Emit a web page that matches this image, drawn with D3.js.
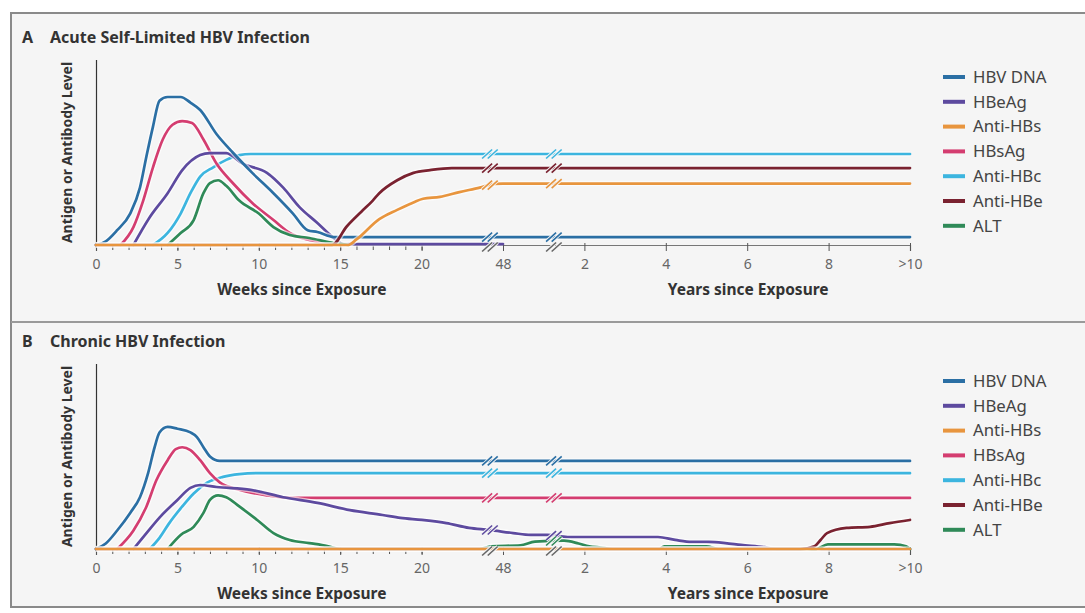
<!DOCTYPE html>
<html>
<head>
<meta charset="utf-8">
<script src="https://cdn.jsdelivr.net/npm/d3@7"></script>
<style>
  body { margin: 0; background: #fff; }
  svg { display: block; font-family: "Noto Sans", "Open Sans", sans-serif; }
  .tick text { fill: #666; font-size: 14px; }
  .ptitle { font-weight: bold; font-size: 16px; fill: #333; }
  .atitle { font-weight: bold; font-size: 15.5px; fill: #333; }
  .ylab { font-weight: bold; font-size: 14px; fill: #333; }
  .leg { font-size: 16.8px; fill: #444; }
</style>
</head>
<body>
<div id="chart"></div>
<script>
// x values are weeks since exposure (years * 52 after the break), y values are relative level 0-100

const seriesNames = ["HBV DNA", "HBeAg", "Anti-HBs", "HBsAg", "Anti-HBc", "Anti-HBe", "ALT"];
const seriesColors = ["#2b6fa4", "#5d4a9f", "#e8953e", "#d43d70", "#3cb5df", "#7a2230", "#2f8a58"];
// draw order (zero segments end up on the baseline)
const drawOrder = ["Anti-HBc", "HBsAg", "HBeAg", "ALT", "HBV DNA", "Anti-HBe", "Anti-HBs"];

const tickWeeks = [0, 5, 10, 15, 20, 48, 104, 208, 312, 416, 520];
const tickLabels = ["0", "5", "10", "15", "20", "48", "2", "4", "6", "8", ">10"];
const minorWeeks = d3.range(0, 21);
const breakWeeks = [43.5, 83];

// ---- Panel A: acute self-limited infection ----
const acuteHbvDna = [[0,0],[0.6,2],[1.3,8],[2.1,17],[2.7,31],[3.1,48],[3.5,64],[3.9,78],[4.4,80],[5.2,80],[5.8,77],[6.4,73],[7.4,60],[8.4,50],[9.6,39],[10.9,28],[12.1,17],[13,8],[13.6,7],[14.6,4.3],[16,4.3],[520,4.3]];
const acuteHbeag = [[2.3,0],[3.3,15],[4.4,28],[5.3,40.5],[6.4,48.6],[7,49.7],[8,49.7],[9,44],[10.5,39],[11.5,31],[12.5,20.5],[13.6,11.9],[14.6,3.8],[15.2,0.5],[48,0.5]];
const acuteAntiHbs = [[0,0],[15.5,0],[16,3],[17.4,14],[18.5,19],[19.5,23],[20.5,25],[26.3,26],[33,28.6],[40,31],[45,33],[48,33.2],[520,33.2]];
const acuteHbsag = [[1.5,0],[2.3,9.7],[2.9,24],[3.5,42],[4.1,57],[4.7,65],[5.3,67],[5.9,66],[6.6,57],[7.4,44],[8.4,33.5],[9.6,22.7],[10.9,13.5],[11.9,6.5],[13.1,2.7],[14.2,1],[15,0]];
const acuteAntiHbc = [[3.5,0],[4.4,6.5],[5.2,17],[5.8,28],[6.4,37],[7.2,42],[8,46],[8.8,48.6],[9.5,49.2],[520,49.2]];
const acuteAntiHbe = [[0,0],[14.5,0],[15.4,10],[16.3,18],[17,24],[17.4,28],[18.5,35],[19.5,39],[22.9,40.5],[30.4,41.6],[520,41.6]];
const acuteAlt = [[4.4,0],[5.2,6.5],[6,13.5],[6.6,28],[7,33.5],[7.5,35],[8,32],[8.8,24],[10,17],[10.9,9.7],[11.9,5.4],[13.1,3.8],[14.6,1],[15.5,0]];

// ---- Panel B: chronic infection ----
const chronicHbvDna = [[0,0],[0.6,3],[1.3,10],[2.1,19.5],[2.7,28],[3.2,41],[3.6,55],[3.9,63],[4.4,66],[5,65],[5.8,63],[6.2,60.5],[6.6,55],[7,50],[7.6,47.6],[8.5,47.6],[520,47.6]];
const chronicHbeag = [[2.3,0],[3.1,8.6],[3.9,17],[5,26.5],[5.8,33],[6.4,34.6],[7.4,33.5],[9.5,32],[11.5,28],[13.6,24.9],[15.6,21],[17.6,18.4],[18.7,16.8],[20.1,15.7],[28.5,14],[36.3,11.4],[43.2,10.3],[55,8.6],[67,7.6],[78.6,7.6],[92.4,6.5],[114,6.5],[156,6.5],[198,6.5],[220,4.9],[241,3.8],[263,3.8],[284,3.2],[304,2.2],[334,1],[350,0],[520,0]];
const chronicAntiHbs = [[0,0],[520,0]];
const chronicHbsag = [[1.3,0],[2.3,10],[3.1,23],[3.7,37],[4.4,48],[4.9,54],[5.3,55],[5.8,53.5],[6.4,48],[7,41],[7.6,36],[8.8,32],[10.5,29],[12.1,27.6],[14,27.6],[520,27.6]];
const chronicAntiHbc = [[3.3,0],[3.9,6],[4.5,14],[5.3,23],[6,30],[6.8,35.7],[7.8,39],[8.8,40.5],[9.9,41],[11,41],[520,41]];
const chronicAntiHbe = [[0,0],[380,0],[398,1.5],[406,5],[414,8.6],[439,11.4],[469,12],[494,14],[520,15.7]];
const chronicAlt = [[4.4,0],[5.2,7.6],[6,12],[6.6,19.5],[7,26.5],[7.5,29],[8,28],[8.8,23],[9.9,15.7],[10.9,8.6],[11.9,4.9],[13.1,3.2],[14.2,1.6],[15,0],[40,0],[44,1.5],[60,2],[70,4],[90,4.5],[100,3],[110,1.5],[125,0.8],[140,0],[200,0],[206,1.5],[260,1.5],[275,0],[400,0],[415,2.5],[500,2.5],[515,1.5],[520,0]];

const panels = [
  { letter: "A", title: "Acute Self-Limited HBV Infection", top: 60, base: 245,
    series: [acuteHbvDna, acuteHbeag, acuteAntiHbs, acuteHbsag, acuteAntiHbc, acuteAntiHbe, acuteAlt] },
  { letter: "B", title: "Chronic HBV Infection", top: 364, base: 549,
    series: [chronicHbvDna, chronicHbeag, chronicAntiHbs, chronicHbsag, chronicAntiHbc, chronicAntiHbe, chronicAlt] }
];

const W = 1085, H = 613;
const slot = 81.4, x0 = 96;
const x = d3.scaleLinear()
  .domain([0, 20, 48, 104, 520])
  .range([x0, x0 + 4 * slot, x0 + 5 * slot, x0 + 6 * slot, x0 + 10 * slot]);

const svg = d3.select("#chart").append("svg")
  .attr("width", W)
  .attr("height", H);

// frame
svg.append("rect").attr("x", 11).attr("y", 13).attr("width", W).attr("height", 594)
  .attr("fill", "#f5f5f5").attr("stroke", "#8a8a8a").attr("stroke-width", 2);
svg.append("line").attr("x1", 11).attr("x2", W).attr("y1", 322).attr("y2", 322)
  .attr("stroke", "#9a9a9a").attr("stroke-width", 2);

const colorOf = d3.scaleOrdinal().domain(seriesNames).range(seriesColors);

// value at a given week by straight interpolation, null when outside the series
function valueAt(pts, w) {
  if (w < pts[0][0] || w > pts[pts.length - 1][0]) return null;
  const i = d3.bisector(d => d[0]).left(pts, w);
  if (i === 0) return pts[0][1];
  const a = pts[i - 1], b = pts[i];
  return a[1] + (b[1] - a[1]) * (w - a[0]) / (b[0] - a[0]);
}

function breakMark(g, cx, cy, color) {
  [-2.8, 2.8].forEach(dx => {
    g.append("line")
      .attr("x1", cx + dx - 5).attr("y1", cy + 4.5)
      .attr("x2", cx + dx + 5).attr("y2", cy - 4.5)
      .attr("stroke", "#f5f5f5").attr("stroke-width", 3.5);
  });
  [-2.8, 2.8].forEach(dx => {
    g.append("line")
      .attr("x1", cx + dx - 5).attr("y1", cy + 4.5)
      .attr("x2", cx + dx + 5).attr("y2", cy - 4.5)
      .attr("stroke", color).attr("stroke-width", 1.6);
  });
}

panels.forEach(p => {
  const g = svg.append("g");
  const y = d3.scaleLinear().domain([0, 100]).range([p.base, p.top]);

  // title
  const t = g.append("text").attr("class", "ptitle").attr("x", 22).attr("y", p.top - 17);
  t.append("tspan").text(p.letter);
  t.append("tspan").attr("x", 50).text(p.title);

  // y axis
  g.append("line").attr("x1", x0 + 0.5).attr("x2", x0 + 0.5).attr("y1", p.top).attr("y2", p.base)
    .attr("stroke", "#333").attr("stroke-width", 1.2);
  g.append("text").attr("class", "ylab")
    .attr("transform", `translate(72, ${(p.top + p.base) / 2}) rotate(-90)`)
    .attr("text-anchor", "middle").text("Antigen or Antibody Level");

  // x axis
  const xAxis = d3.axisBottom(x)
    .tickValues(tickWeeks)
    .tickFormat((d, i) => tickLabels[i])
    .tickSize(6)
    .tickPadding(8);
  const ax = g.append("g").attr("transform", `translate(0, ${p.base})`).call(xAxis);
  ax.select(".domain").attr("stroke", "#777").attr("stroke-width", 1.2);
  ax.selectAll(".tick line").attr("stroke", "#555").attr("y1", -2);
  ax.selectAll(".tick text").attr("font-family", "Noto Sans, sans-serif");

  const minor = d3.axisBottom(x).tickValues(minorWeeks).tickSize(5).tickFormat("");
  const mx = g.append("g").attr("transform", `translate(0, ${p.base})`).call(minor);
  mx.select(".domain").remove();
  mx.selectAll(".tick line").attr("stroke", "#555");

  g.append("text").attr("class", "atitle").attr("x", x(10) + 43).attr("y", p.base + 50)
    .attr("text-anchor", "middle").text("Weeks since Exposure");
  g.append("text").attr("class", "atitle").attr("x", x(312) + 1).attr("y", p.base + 50)
    .attr("text-anchor", "middle").text("Years since Exposure");

  // lines
  const line = d3.line().x(d => x(d[0])).y(d => y(d[1])).curve(d3.curveMonotoneX);
  drawOrder.forEach(name => {
    const pts = p.series[seriesNames.indexOf(name)];
    g.append("path").datum(pts).attr("d", line)
      .attr("fill", "none").attr("stroke", "#fff").attr("stroke-opacity", 0.6)
      .attr("stroke-width", 5.5).attr("stroke-linejoin", "round");
    g.append("path").datum(pts).attr("d", line)
      .attr("fill", "none").attr("stroke", colorOf(name))
      .attr("stroke-width", 2.7).attr("stroke-linejoin", "round").attr("stroke-linecap", "round");
  });

  // axis breaks
  breakWeeks.forEach(bw => {
    const cx = x(bw);
    breakMark(g, cx, p.base + 2, "#666");
    seriesNames.forEach((name, i) => {
      const v = valueAt(p.series[i], bw);
      if (v !== null && v > 2) breakMark(g, cx, y(v), colorOf(name));
    });
  });

  // legend
  const leg = g.append("g").attr("transform", `translate(943, ${p.top + 17})`);
  seriesNames.forEach((name, i) => {
    const row = leg.append("g").attr("transform", `translate(0, ${i * 24.8})`);
    row.append("line").attr("x1", 0).attr("x2", 22).attr("y1", 0).attr("y2", 0)
      .attr("stroke", colorOf(name)).attr("stroke-width", 4);
    row.append("text").attr("class", "leg").attr("x", 30).attr("y", 0)
      .attr("dy", "0.35em").text(name);
  });
});
</script>
</body>
</html>
